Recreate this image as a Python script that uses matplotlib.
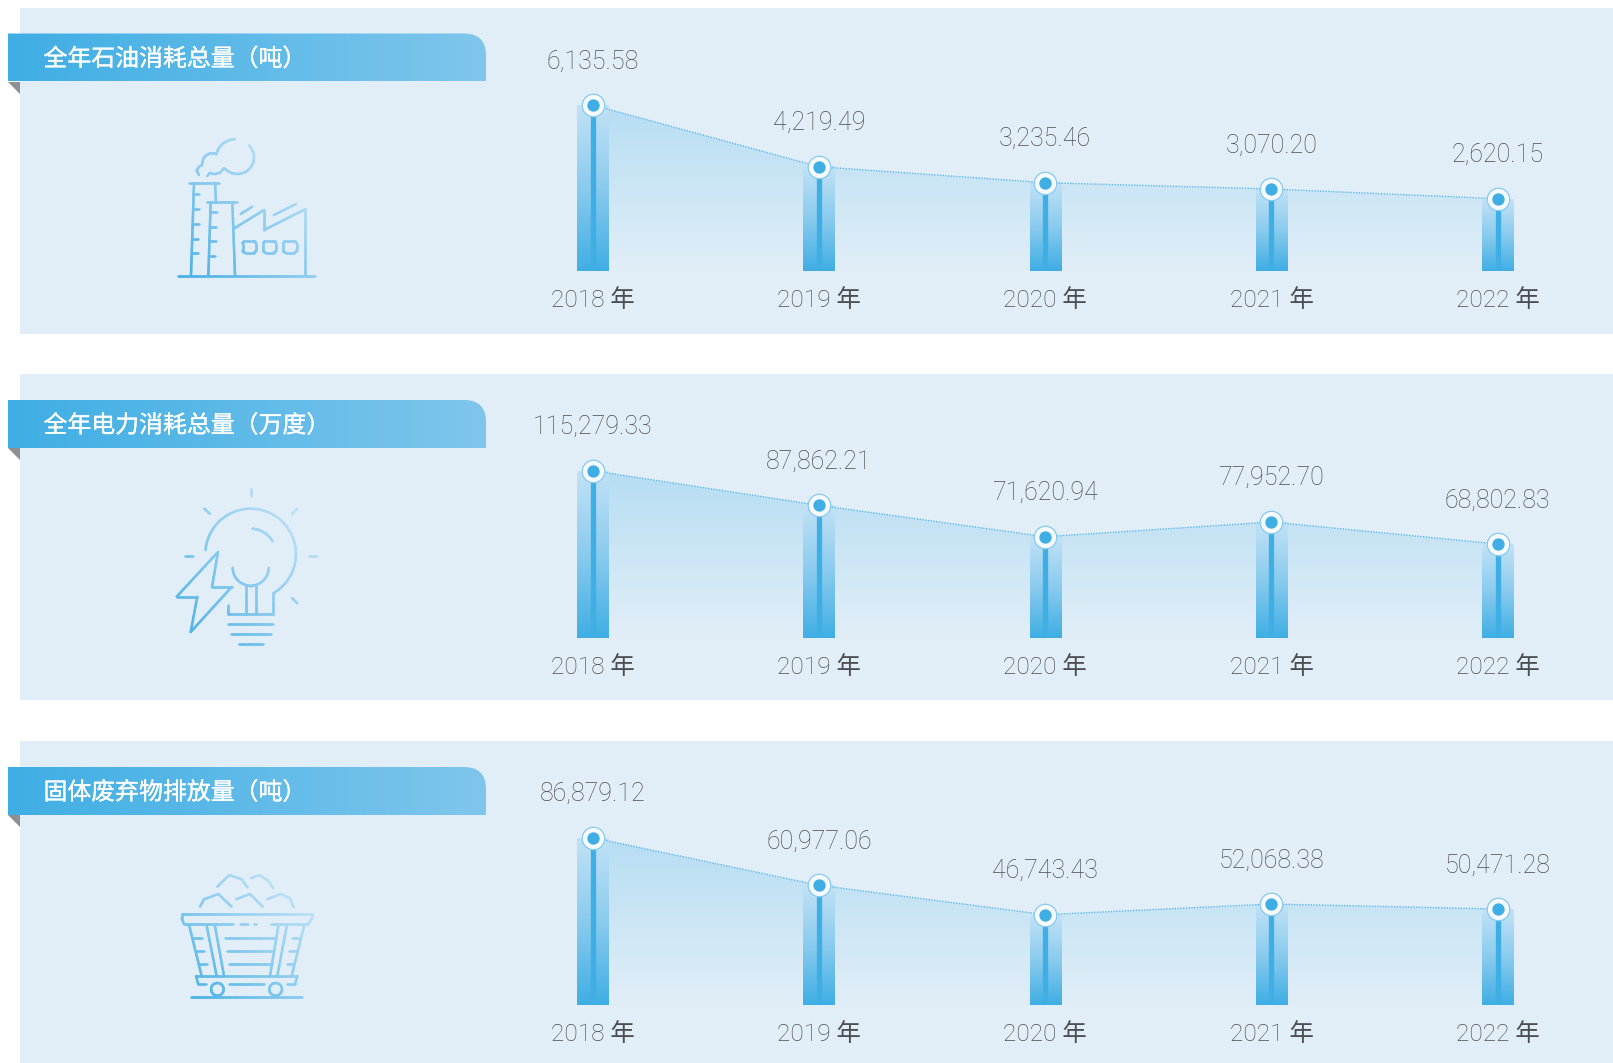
#!/usr/bin/env python3
"""Three-panel annual consumption / emission infographic."""

import matplotlib

matplotlib.use("Agg")
import matplotlib.pyplot as plt
import matplotlib.patheffects as pe
import numpy as np
from matplotlib.collections import LineCollection
from matplotlib.colors import LinearSegmentedColormap
from matplotlib.patches import PathPatch, Polygon, Rectangle
from matplotlib.path import Path

years = ["2018 年", "2019 年", "2020 年", "2021 年", "2022 年"]

titles = ["全年石油消耗总量（吨）", "全年电力消耗总量（万度）", "固体废弃物排放量（吨）"]

oil = [6135.58, 4219.49, 3235.46, 3070.20, 2620.15]
power = [115279.33, 87862.21, 71620.94, 77952.70, 68802.83]
waste = [86879.12, 60977.06, 46743.43, 52068.38, 50471.28]

# the source graphic is not quite to scale, so these are the levels the marks
# actually sit at in the units of each series
oil_drawn = [6135.58, 3851, 3259, 3025, 2666]
power_drawn = [115279.33, 91396, 69720, 79868, 64680]
waste_drawn = [86879.12, 62120, 46820, 52387, 49785]

BLUE = "#3FAEE4"
PANEL = "#E1EEF8"
TEXT = "#4C4D50"
NUM_FONT = ["Roboto", "Noto Sans CJK SC"]
W, H = 1613, 1063

icon_cmap = LinearSegmentedColormap.from_list("icon", ["#45AFE5", "#8FCDF0", "#D0E8F8"])
bar_cmap = LinearSegmentedColormap.from_list("bar", ["#C2E2F6", "#8ACBEE", BLUE])
area_cmap = LinearSegmentedColormap.from_list("area", ["#B6DDF3", "#CCE6F5", "#E1EEF8"])
head_cmap = LinearSegmentedColormap.from_list("head", [BLUE, "#7FC6EC"])


def arc(cx, cy, r, a0, a1, n=40):
    a = np.radians(np.linspace(a0, a1, n))
    return list(zip(cx + r * np.cos(a), cy + r * np.sin(a)))


def rrect(x0, y0, x1, y1, r):
    pts = arc(x0 + r, y0 + r, r, 180, 270, 8) + arc(x1 - r, y0 + r, r, 270, 360, 8)
    pts += arc(x1 - r, y1 - r, r, 0, 90, 8) + arc(x0 + r, y1 - r, r, 90, 180, 8)
    return pts + pts[:1]


factory = [
    [(535, 827), (945, 827)],
    [(573, 825), (582, 550)], [(645, 550), (648, 605)], [(566, 550), (658, 550)],
    [(580, 583), (598, 583)], [(579, 628), (597, 628)], [(578, 672), (596, 672)],
    [(576, 716), (595, 716)], [(575, 760), (593, 760)],
    [(625, 825), (632, 607)], [(697, 607), (705, 825)], [(620, 607), (710, 607)],
    [(632, 636), (650, 636)], [(630, 680), (648, 680)], [(629, 724), (647, 724)], [(627, 768), (645, 768)],
    [(703, 685), (792, 630), (792, 690), (915, 628), (915, 825)],
    [(722, 642), (757, 620)], [(822, 645), (888, 612)],
    rrect(728, 724, 768, 758, 7), rrect(790, 724, 828, 758, 7), rrect(850, 724, 890, 758, 7),
    arc(712, 472, 50, -45, 125) + [(672, 505), (660, 518), (645, 522), (628, 520), (622, 528)],
    arc(705, 475, 57, 193, 270),
    arc(637, 490, 30, 209, 295),
    [(597, 525), (590, 512), (597, 500), (606, 495), (610, 475)],
]

bulb = [
    arc(362, 252, 136, 185, 420) + [(430, 432), (295, 432), (295, 405)],
    arc(362, 252, 76, 274, 330),
    arc(362, 293, 54, 180, 0),
    [(347, 345), (347, 432)], [(378, 345), (378, 432)],
    [(295, 462), (430, 462)], [(303, 492), (422, 492)], [(327, 523), (398, 523)],
    [(362, 57), (362, 78)], [(223, 116), (240, 132)], [(502, 116), (486, 132)],
    [(165, 258), (188, 258)], [(537, 258), (560, 258)], [(486, 384), (502, 400)],
    [(264, 246), (140, 380), (202, 380), (182, 486), (305, 351), (246, 351), (264, 246)],
]

cart = [
    [(162, 222), (155, 205), (155, 192), (545, 192), (545, 205), (535, 222), (422, 222)],
    [(162, 222), (308, 222)], [(330, 222), (353, 222)], [(372, 222), (378, 222)],
    [(178, 228), (215, 378)], [(522, 228), (485, 378)],
    [(230, 228), (260, 378)], [(255, 228), (282, 378)],
    [(445, 228), (420, 378)], [(470, 228), (442, 378)],
    [(190, 265), (215, 265)], [(200, 303), (222, 303)], [(208, 341), (230, 341)],
    [(487, 265), (508, 265)], [(478, 303), (500, 303)], [(472, 341), (492, 341)],
    [(285, 265), (437, 265)], [(292, 303), (430, 303)], [(298, 341), (425, 341)],
    [(228, 403), (205, 403), (198, 378), (502, 378), (495, 403), (472, 403)],
    [(298, 403), (403, 403)],
    arc(262, 418, 19, 0, 360), arc(437, 418, 19, 0, 360),
    [(183, 440), (517, 440)],
    [(262, 110), (298, 75), (335, 88), (352, 112)],
    [(362, 85), (387, 75), (415, 92), (430, 115)],
    [(210, 170), (222, 148), (265, 132), (305, 170)],
    [(318, 148), (360, 132), (398, 170)],
    [(412, 148), (452, 132), (480, 145), (491, 172)],
]


def draw_icon(ax, lines, ox, oy):
    # polylines are in 3x crop units, split up so the stroke can fade left to right
    all_pts = np.vstack([np.array(p, dtype=float) for p in lines])
    x0, y0 = all_pts.min(axis=0)
    x1, y1 = all_pts.max(axis=0)
    segs, vals = [], []
    for line in lines:
        pts = np.array(line, dtype=float)
        for a, b in zip(pts[:-1], pts[1:]):
            n = max(2, int(np.hypot(*(b - a)) / 6) + 1)
            xs = np.linspace(a[0], b[0], n)
            ys = np.linspace(a[1], b[1], n)
            for i in range(n - 1):
                segs.append([(ox + xs[i] / 3, oy + ys[i] / 3), (ox + xs[i + 1] / 3, oy + ys[i + 1] / 3)])
                vals.append(((xs[i] - x0) / (x1 - x0) + (y1 - ys[i]) / (y1 - y0)) / 2)
    lc = LineCollection(segs, cmap=icon_cmap, linewidths=1.8, capstyle="round", zorder=3)
    lc.set_array(np.array(vals))
    lc.set_clim(0, 1)
    ax.add_collection(lc)


def draw_header(ax, title, top):
    bottom = top + 48
    ax.add_patch(Polygon([(8, bottom), (20, bottom), (20, bottom + 12)], color="#8E8F93", lw=0, zorder=2))
    verts = [(8, top), (464, top), (486, top), (486, top + 22), (486, bottom), (8, bottom), (8, top)]
    codes = [Path.MOVETO, Path.LINETO, Path.CURVE3, Path.CURVE3, Path.LINETO, Path.LINETO, Path.CLOSEPOLY]
    patch = PathPatch(Path(verts, codes), fc="none", ec="none", zorder=2)
    ax.add_patch(patch)
    im = ax.imshow(np.linspace(0, 1, 256)[None, :], extent=(8, 486, bottom, top), cmap=head_cmap, aspect="auto", zorder=2)
    im.set_clip_path(patch)
    ax.text(43.5, (top + bottom) / 2 + 2, title, color="white", fontsize=17.2, va="center", ha="left",
            family="Noto Sans CJK SC", zorder=4,
            path_effects=[pe.withStroke(linewidth=0.2, foreground="white")])


def draw_chart(fig, values, drawn, base_y, top_y, first_px):
    left, right = 479.6, 1610.8
    ax = fig.add_axes([left / W, 1 - base_y / H, (right - left) / W, (base_y - top_y) / H])
    # first_px: height of the first bar, sets units per pixel for the panel
    ymax = drawn[0] * (base_y - top_y) / first_px
    x = np.arange(len(years))
    level = np.array(drawn)
    gradient = np.linspace(0, 1, 256)[:, None]

    poly = ax.fill_between(x, 0, level, facecolor="none", edgecolor="none")
    im = ax.imshow(gradient, extent=(0, 4, 0, level.max()), cmap=area_cmap, aspect="auto", zorder=1)
    im.set_clip_path(poly.get_paths()[0], transform=ax.transData)

    width = 0.138
    for xi, lv in zip(x, level):
        ax.imshow(gradient, extent=(xi - width / 2, xi + width / 2, 0, lv), cmap=bar_cmap, aspect="auto", zorder=2)
    ax.vlines(x, 0, level, color=BLUE, lw=3.8, zorder=3)
    ax.plot(x, level, color="#5DB9EA", lw=1.0, ls=(0, (1, 1)), zorder=4)
    ax.scatter(x, level, s=262, color="#F6FAFD", edgecolor="#85CAEF", linewidth=0.9, zorder=5, clip_on=False)
    ax.scatter(x, level, s=62, color=BLUE, zorder=6, clip_on=False)

    for xi, lv, v in zip(x, level, values):
        ax.annotate(f"{v:,.2f}", (xi, lv), xytext=(0, 31.5), textcoords="offset points", ha="center", va="center",
                    fontsize=18, color=TEXT, family=NUM_FONT, weight="light", zorder=7)

    ax.set_xlim(-0.5, 4.5)
    ax.set_ylim(0, ymax)
    ax.set_xticks(x, years, fontsize=17.6, color=TEXT, family=NUM_FONT, weight="light")
    ax.set_yticks([])
    ax.tick_params(axis="x", length=0, pad=13.5)
    ax.patch.set_visible(False)
    for spine in ax.spines.values():
        spine.set_visible(False)


def main():
    fig = plt.figure(figsize=(W / 100, H / 100), dpi=100, facecolor="white")
    bg = fig.add_axes([0, 0, 1, 1])
    bg.axis("off")

    for top, bottom in [(8, 334), (374, 699.5), (741, 1063)]:
        bg.add_patch(Rectangle((20, top), W - 20, bottom - top, color=PANEL, lw=0, zorder=1))
    for title, top in zip(titles, [33.5, 400, 767]):
        draw_header(bg, title, top)

    draw_icon(bg, factory, 0, 0)
    draw_icon(bg, bulb, 130, 470)
    draw_icon(bg, cart, 130, 850)

    bg.set_xlim(0, W)
    bg.set_ylim(H, 0)

    draw_chart(fig, oil, oil_drawn, 270.7, 8, 165.7)
    draw_chart(fig, power, power_drawn, 637.7, 374, 167)
    draw_chart(fig, waste, waste_drawn, 1004.7, 741, 167)

    fig.savefig("out.png", dpi=100)
    plt.close(fig)


if __name__ == "__main__":
    main()
